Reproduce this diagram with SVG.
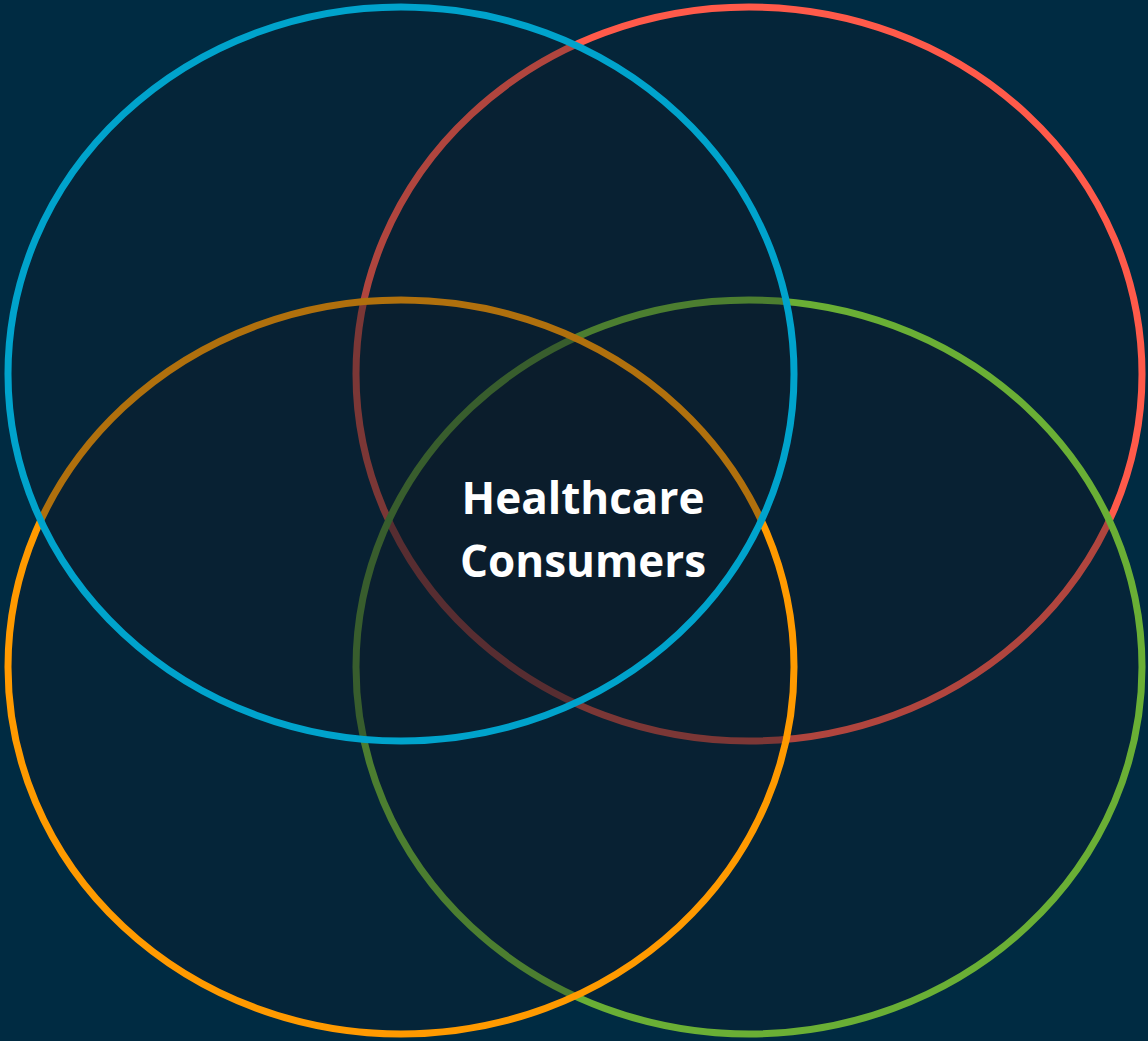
<svg xmlns="http://www.w3.org/2000/svg" width="1148" height="1041" viewBox="0 0 1148 1041">
<style>
.set{fill:#0E1A26;fill-opacity:0.33;stroke-width:7}
.lbl{font-family:"Open Sans","Liberation Sans",sans-serif;font-weight:bold;font-size:44px;fill:#FFFFFF;text-anchor:middle}
</style>
<rect width="1148" height="1041" fill="#002B42"/>
<g id="set-red"><ellipse class="set" cx="749" cy="374" rx="393" ry="367" stroke="#FF5A4A"/></g>
<g id="set-green"><ellipse class="set" cx="749" cy="667" rx="393" ry="367" stroke="#6AAF35"/></g>
<g id="set-orange"><ellipse class="set" cx="401" cy="667" rx="393" ry="367" stroke="#FF9A00"/></g>
<g id="set-blue"><ellipse class="set" cx="401" cy="374" rx="393" ry="367" stroke="#00A3CC"/></g>
<g id="connectors"></g>
<g id="center-label"><text class="lbl" x="583" y="514">Healthcare</text><text class="lbl" x="583" y="577">Consumers</text></g>
</svg>
